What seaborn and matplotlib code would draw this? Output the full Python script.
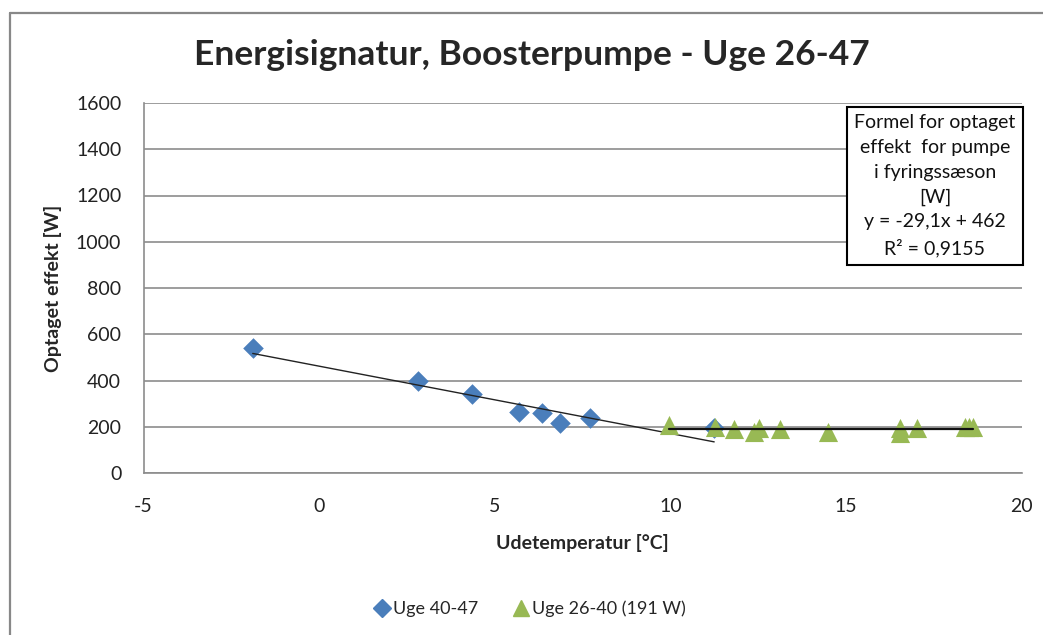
import numpy as np
import pandas as pd
import matplotlib
matplotlib.use("Agg")
import matplotlib.pyplot as plt
from matplotlib.lines import Line2D
import seaborn as sns

# ---- data ----
blue_x = [-1.89, 2.81, 4.34, 5.68, 6.34, 6.85, 7.71, 11.25]
blue_y = [540, 398, 342, 264, 260, 216, 238, 195]
green_x = [9.96, 11.27, 11.81, 12.38, 12.52, 13.12, 14.49, 16.54, 16.54, 17.03, 18.39, 18.5, 18.62]
green_y = [207, 199, 190, 177, 195, 190, 177, 195, 173, 195, 197, 200, 197]
trend_slope = -29.1
trend_intercept = 462
green_level = 191
series_labels = ["Uge 40-47", "Uge 26-40 (191 W)"]
title = "Energisignatur, Boosterpumpe - Uge 26-47"
xlabel = "Udetemperatur [°C]"
ylabel = "Optaget effekt [W]"
box_text = "Formel for optaget\neffekt  for pumpe\ni fyringssæson\n[W]\ny = -29,1x + 462\nR² = 0,9155"

sns.set_style("white")
plt.rcParams['font.family'] = ['Lato', 'DejaVu Sans']
plt.rcParams['axes.unicode_minus'] = False

W, H = 1043, 635
fig = plt.figure(figsize=(W / 100, H / 100), dpi=100)
ax = fig.add_axes([143.5 / W, 1 - 473 / H, (1021.5 - 143.5) / W, (473 - 103) / H])

grid_c = "#8c8c8c"
blue = "#4A7EBB"
green = "#98B954"

# trend lines
tx = np.array([min(blue_x), max(blue_x)])
trend_df = pd.DataFrame({"x": tx, "y": trend_slope * tx + trend_intercept})
sns.lineplot(data=trend_df, x="x", y="y", ax=ax, color="#222222", linewidth=1.0, zorder=4)

bdf = pd.DataFrame({"x": blue_x, "y": blue_y})
gdf = pd.DataFrame({"x": green_x, "y": green_y})
sns.scatterplot(data=bdf, x="x", y="y", ax=ax, marker="D", s=110, color=blue,
                edgecolor=blue, linewidth=0, zorder=3)
sns.scatterplot(data=gdf, x="x", y="y", ax=ax, marker="^", s=190, color=green,
                edgecolor=green, linewidth=0, zorder=5)

hx = np.array([min(green_x), max(green_x)])
hdf = pd.DataFrame({"x": hx, "y": [green_level, green_level]})
sns.lineplot(data=hdf, x="x", y="y", ax=ax, color="#111111", linewidth=1.6, zorder=6)

ax.set_xlim(-5, 20)
ax.set_ylim(0, 1600)
ax.set_xticks(np.arange(-5, 21, 5))
ax.set_yticks(np.arange(0, 1601, 200))
ax.yaxis.grid(True, color=grid_c, linewidth=1.2)
ax.set_axisbelow(True)
for s in ["top", "right"]:
    ax.spines[s].set_visible(False)
for s in ["left", "bottom"]:
    ax.spines[s].set_color(grid_c)
    ax.spines[s].set_linewidth(1.2)
ax.tick_params(axis="both", direction="out", length=6, width=1.2, color=grid_c,
               labelsize=14, labelcolor="#222222")
ax.tick_params(axis="y", pad=10)
ax.tick_params(axis="x", pad=12)
ax.set_xlabel(xlabel, fontsize=14, fontweight="bold", labelpad=14)
ax.set_ylabel(ylabel, fontsize=14, fontweight="bold", labelpad=10)

fig.text(532 / W, 1 - 55 / H, title, ha="center", va="center", fontsize=25.5, fontweight="bold")

# formula box
ax.text(935 / W, 1 - 186 / H, box_text, transform=fig.transFigure, ha="center", va="center",
        fontsize=14, linespacing=1.55, color="#111111",
        bbox=dict(boxstyle="square,pad=0.4", facecolor="white", edgecolor="black", linewidth=1.5),
        zorder=10)

# legend
handles = [Line2D([], [], marker="D", linestyle="", color=blue, markersize=9),
           Line2D([], [], marker="^", linestyle="", color=green, markersize=12)]
fig.legend(handles, series_labels, loc="center", bbox_to_anchor=(529 / W, 1 - 609 / H),
           ncol=2, frameon=False, fontsize=13, handletextpad=0.05, columnspacing=1.8,
           handlelength=1.1)

# outer chart border
fig.add_artist(Line2D([10 / W, 10 / W], [0, 1 - 13 / H], transform=fig.transFigure,
                      color="#888888", linewidth=1.6))
fig.add_artist(Line2D([10 / W, 1], [1 - 13 / H, 1 - 13 / H], transform=fig.transFigure,
                      color="#888888", linewidth=1.6))

fig.savefig("out.png", dpi=100)
